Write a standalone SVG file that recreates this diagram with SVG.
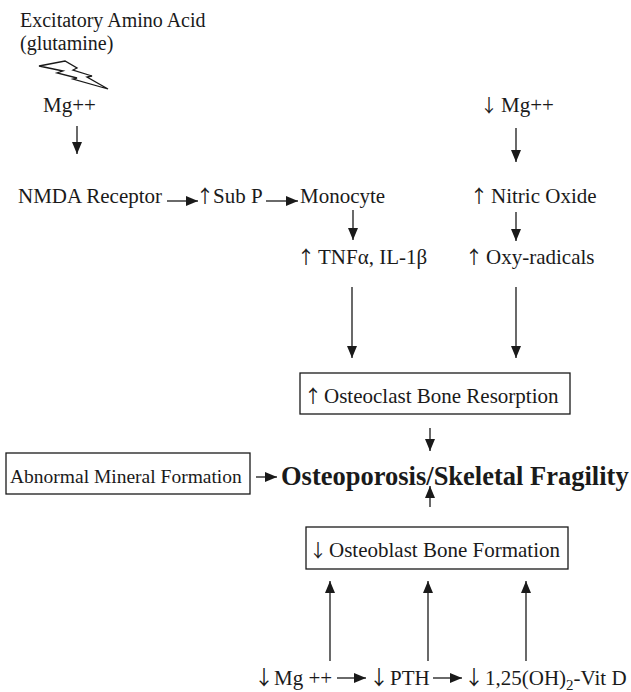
<svg xmlns="http://www.w3.org/2000/svg" width="631" height="692" viewBox="0 0 631 692">
<style>
text{font-family:"Liberation Serif","Times New Roman",serif;font-size:21px;fill:#1a1a1a}
.ar{font-family:"Noto Sans CJK JP","Noto Sans CJK SC",sans-serif;font-size:18px}
.s20{font-size:20px}
.b{font-weight:bold;font-size:26.5px}
.big.ar{font-size:20px}
.ln{stroke:#1a1a1a;stroke-width:1.3;fill:none}
.box{stroke:#1a1a1a;stroke-width:1.3;fill:#fff}
</style>
<defs>
<marker id="ah" viewBox="0 0 12 10" refX="12" refY="5" markerWidth="12" markerHeight="10" markerUnits="userSpaceOnUse" orient="auto">
<path d="M0,0 L12,5 L0,10 Z" fill="#1a1a1a"/>
</marker>
</defs>
<rect width="631" height="692" fill="#fff"/>
<g id="eaa">
<text class="s20" x="20" y="27">Excitatory Amino Acid</text>
<text class="s20" x="20" y="50">(glutamine)</text>
<polygon class="ln" points="39,66 65,61 77,68 73,70 92,76 87,77 108,89 73,79 77,78 57,73 63,71"/>
</g>
<g id="mg1"><text x="43" y="112">Mg++</text></g>
<g id="nmda"><text x="18" y="203">NMDA Receptor</text></g>
<g id="subp"><text class="ar" x="196" y="203">↑</text><text x="213" y="203">Sub P</text></g>
<g id="mono"><text x="300" y="203">Monocyte</text></g>
<g id="tnf"><text class="ar" x="297" y="264">↑</text><text x="318" y="264">TNFα, IL-1β</text></g>
<g id="mg2"><text class="ar" x="480" y="112">↓</text><text x="501" y="112">Mg++</text></g>
<g id="no"><text class="ar" x="470" y="203">↑</text><text x="491" y="203">Nitric Oxide</text></g>
<g id="oxy"><text class="ar" x="465" y="264">↑</text><text x="486" y="264">Oxy-radicals</text></g>
<g id="ocl">
<rect class="box" x="300" y="373" width="270" height="41"/>
<text class="ar" x="304" y="403">↑</text><text x="324" y="403">Osteoclast Bone Resorption</text>
</g>
<g id="amf">
<rect class="box" x="6" y="453" width="244" height="41"/>
<text x="10" y="483" style="font-size:19.5px">Abnormal Mineral Formation</text>
</g>
<g id="osteo"><text class="b" x="281" y="485">Osteoporosis/Skeletal Fragility</text></g>
<g id="obl">
<rect class="box" x="306" y="527" width="262" height="42"/>
<text class="ar" x="309" y="557">↓</text><text x="329" y="557">Osteoblast Bone Formation</text>
</g>
<g id="bottom">
<text class="big ar" x="254" y="685">↓</text><text x="274" y="685">Mg ++</text>
<text class="big ar" x="369" y="685">↓</text><text x="390" y="685">PTH</text>
<text class="big ar" x="464" y="685">↓</text><text x="485" y="685">1,25(OH)<tspan font-size="15" dy="5">2</tspan><tspan dy="-5">-Vit D</tspan></text>
</g>
<g id="connectors" class="ln" marker-end="url(#ah)">
<line x1="77" y1="126" x2="77" y2="154"/>
<line x1="167" y1="201" x2="198" y2="201"/>
<line x1="266" y1="201" x2="298" y2="201"/>
<line x1="353" y1="210" x2="353" y2="240"/>
<line x1="516" y1="128" x2="516" y2="162"/>
<line x1="516" y1="212" x2="516" y2="241"/>
<line x1="352" y1="287" x2="352" y2="358"/>
<line x1="516" y1="287" x2="516" y2="358"/>
<line x1="430" y1="428" x2="430" y2="451"/>
<line x1="256" y1="477" x2="277" y2="477"/>
<line x1="430" y1="507" x2="430" y2="486"/>
<line x1="330" y1="661" x2="330" y2="581"/>
<line x1="428" y1="661" x2="428" y2="581"/>
<line x1="526" y1="661" x2="526" y2="581"/>
<line x1="337" y1="678" x2="366" y2="678"/>
<line x1="433" y1="678" x2="462" y2="678"/>
</g>
</svg>
